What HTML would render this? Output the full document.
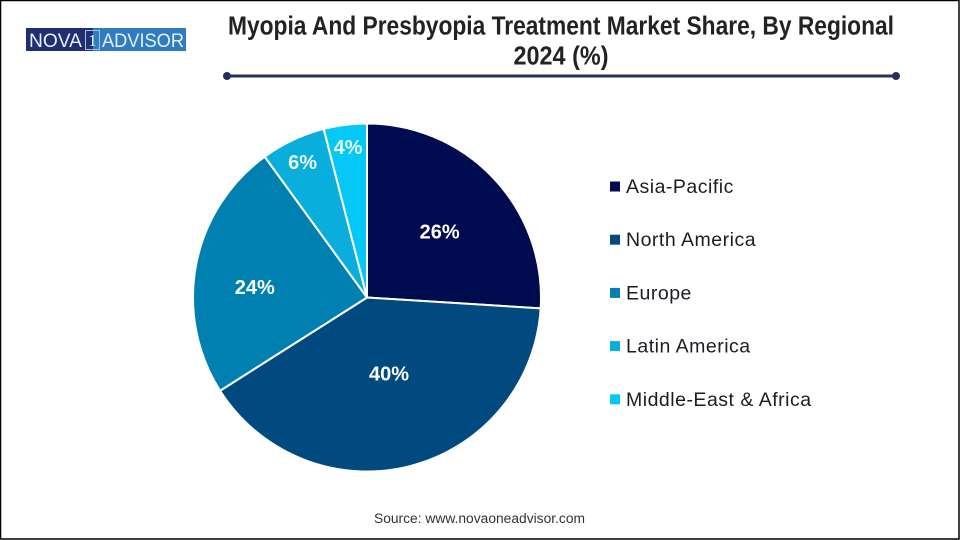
<!DOCTYPE html>
<html lang="en">
<head>
<meta charset="utf-8">
<title>Myopia And Presbyopia Treatment Market Share</title>
<style>
html,body{margin:0;padding:0;background:#fff;}
#frame{position:relative;width:960px;height:540px;overflow:hidden;background:#fff;}
svg{display:block;font-family:"Liberation Sans",sans-serif;}
</style>
</head>
<body>
<div id="frame">
<svg id="chart" width="960" height="540" viewBox="0 0 960 540" xmlns="http://www.w3.org/2000/svg">
  <rect x="0.5" y="0.5" width="958.5" height="538.5" fill="#fff" stroke="#000" stroke-width="1.5"/>
  <g>
    <rect x="26" y="28" width="67" height="23" fill="#1f2f72"/>
    <rect x="93" y="28" width="93" height="23" fill="#2f7cc0"/>
    <text x="29" y="47" font-size="19.5" fill="#e8f0fa" textLength="53" lengthAdjust="spacingAndGlyphs">NOVA</text>
    <rect x="85.5" y="30.5" width="14" height="19" fill="none" stroke="#a9bde0" stroke-width="1"/>
    <text x="92.5" y="46" font-size="17" fill="#e8f0fa" text-anchor="middle" font-family="'Liberation Serif',serif">1</text>
    <text x="102" y="47" font-size="19.5" fill="#e8f0fa" textLength="82" lengthAdjust="spacingAndGlyphs">ADVISOR</text>
  </g>
  <text x="561" y="34.5" font-size="25.5" font-weight="700" fill="#222" text-anchor="middle" textLength="666" lengthAdjust="spacingAndGlyphs">Myopia And Presbyopia Treatment Market Share, By Regional</text>
  <text x="561" y="64.5" font-size="25.5" font-weight="700" fill="#222" text-anchor="middle" textLength="95" lengthAdjust="spacingAndGlyphs">2024 (%)</text>
  <line x1="227" y1="76" x2="896" y2="76" stroke="#25305f" stroke-width="3"/>
  <circle cx="227" cy="76" r="4" fill="#25305f"/>
  <circle cx="896" cy="76" r="4" fill="#25305f"/>
  <g id="slices"></g>
  <g id="labels"></g>
  <g id="legend"></g>
  <text x="479.5" y="523" font-size="13.5" fill="#333" text-anchor="middle" textLength="211" lengthAdjust="spacingAndGlyphs">Source: www.novaoneadvisor.com</text>
</svg>
</div>
<script>
const categories = ['Asia-Pacific', 'North America', 'Europe', 'Latin America', 'Middle-East & Africa'];
const shares = [26, 40, 24, 6, 4];
const colors = ['#000b50', '#004a80', '#0080b0', '#0aaedd', '#05c8f7'];

const NS = 'http://www.w3.org/2000/svg';
const CX = 367, CY = 297.5, R = 174;
const total = shares.reduce(function (a, b) { return a + b; }, 0);

function angleOf(value) { return value / total * Math.PI * 2; }
function px(angle, radius) { return CX + Math.sin(angle) * radius; }
function py(angle, radius) { return CY - Math.cos(angle) * radius; }
function labelRadius(value, index) {
  if (value < 10) return R * 0.87;
  if (index === 1) return R * 0.45;
  if (index === 2) return R * 0.645;
  return R * 0.565;
}
function labelNudgeX(index) {
  if (index === 0) return 1;
  if (index === 1) return 2.5;
  if (index === 2) return -2;
  return 0;
}
function labelNudgeY(index) {
  if (index === 2) return 9;
  if (index === 4) return -2;
  if (index === 1) return -1.5;
  return 0;
}

const sliceGroup = document.getElementById('slices');
const labelGroup = document.getElementById('labels');
const legendGroup = document.getElementById('legend');
let cursor = 0;

shares.forEach(function (value, i) {
  const start = cursor;
  const end = cursor + angleOf(value);
  const mid = (start + end) / 2;
  cursor = end;

  const path = document.createElementNS(NS, 'path');
  const large = end - start > Math.PI ? 1 : 0;
  path.setAttribute('d', 'M' + CX + ' ' + CY + 'L' + px(start, R) + ' ' + py(start, R) +
    'A' + R + ' ' + R + ' 0 ' + large + ' 1 ' + px(end, R) + ' ' + py(end, R) + 'Z');
  path.setAttribute('fill', colors[i]);
  path.setAttribute('stroke', '#fff');
  path.setAttribute('stroke-width', '2');
  path.setAttribute('stroke-linejoin', 'round');
  
  
  sliceGroup.appendChild(path);

  const label = document.createElementNS(NS, 'text');
  const lr = labelRadius(value, i);
  label.setAttribute('x', px(mid, lr) + labelNudgeX(i));
  label.setAttribute('y', py(mid, lr) + 8.5 + labelNudgeY(i));
  label.setAttribute('font-size', '20');
  label.setAttribute('font-weight', '700');
  label.setAttribute('fill', i < 3 ? '#fff' : '#e8f8fd');
  label.setAttribute('text-anchor', 'middle');
  label.textContent = value + '%';
  
  
  labelGroup.appendChild(label);

  const rowY = 186.5 + i * 53.2;
  const swatch = document.createElementNS(NS, 'rect');
  swatch.setAttribute('x', 610);
  swatch.setAttribute('y', rowY - 5);
  swatch.setAttribute('width', 10);
  swatch.setAttribute('height', 10);
  swatch.setAttribute('fill', colors[i]);
  
  
  legendGroup.appendChild(swatch);

  const entry = document.createElementNS(NS, 'text');
  entry.setAttribute('x', 626);
  entry.setAttribute('y', rowY + 6.5);
  entry.setAttribute('font-size', '19.5');
  entry.setAttribute('letter-spacing', '0.5');
  entry.setAttribute('fill', '#1c1c24');
  entry.textContent = categories[i];
  
  
  legendGroup.appendChild(entry);
});
</script>
</body>
</html>
